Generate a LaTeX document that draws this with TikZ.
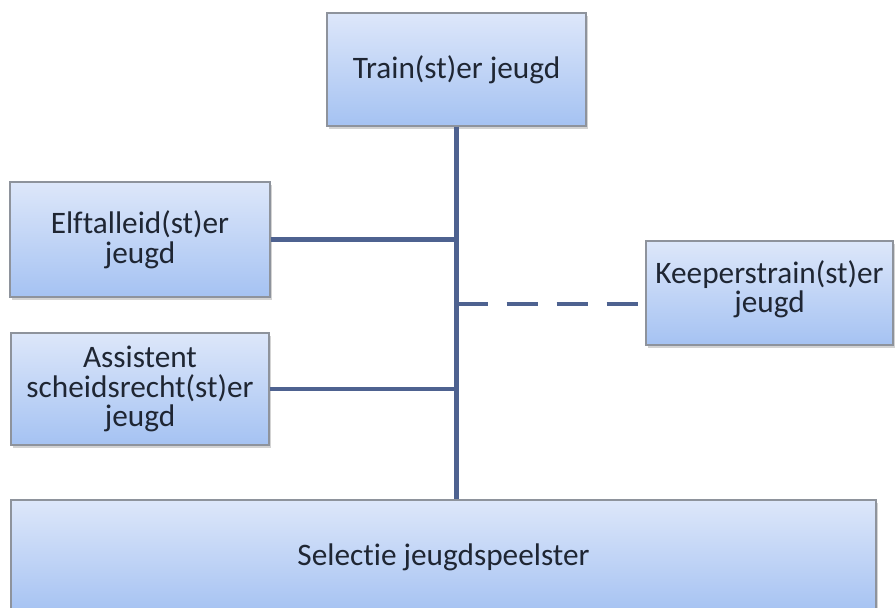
\documentclass[tikz,border=0pt]{standalone}
\usepackage{fontspec}
\setmainfont[Ligatures = NoCommon]{Carlito}
\usetikzlibrary{shadows}
\definecolor{boxtop}{HTML}{DDE7FA}
\definecolor{boxbottom}{HTML}{A5C2F2}
\definecolor{boxline}{HTML}{8E939C}
\definecolor{trunk}{HTML}{4E6290}
\definecolor{boxtext}{HTML}{1F2633}
\newcommand{\boxfont}{\fontsize{17.8}{16.8}\selectfont}

\begin{document}
\begin{tikzpicture}[
  role/.style = {draw = boxline, line width = 0.8pt, top color = boxtop, bottom color = boxbottom, text = boxtext, font = \boxfont, align = center, inner sep = 0pt, drop shadow = {shadow xshift = 1pt, shadow yshift = -1.5pt, opacity = 0.35}},
  link/.style = {draw = trunk, line width = 2.8pt}
]
\useasboundingbox (0,0) rectangle (17.9,12.16);
\node[role, minimum width = 5.18cm, minimum height = 2.26cm] (v1) at (9.13,10.77) {Train(st)er jeugd};
\node[role, minimum width = 5.2cm, minimum height = 2.3cm] (v2) at (2.8,7.37) {Elftalleid(st)er\\jeugd};
\node[role, minimum width = 5.16cm, minimum height = 2.24cm] (v3) at (2.8,4.38) {Assistent\\scheidsrecht(st)er\\jeugd};
\node[role, minimum width = 4.94cm, minimum height = 2.08cm, text depth = 0.25cm] (v4) at (15.39,6.3) {Keeperstrain(st)er\\jeugd};
\node[role, minimum width = 17.3cm, minimum height = 2.28cm] (v5) at (8.87,1.02) {Selectie jeugdspeelster};
\coordinate (k4) at ([yshift = -0.22cm]v4.west);
\draw [link] (v1.south) -- (v1.south |- v5.north);
\draw [link] (v2.east) -- (v2.east -| v1.south);
\draw [link] (v3.east) -- (v3.east -| v1.south);
\draw [link, dash pattern = on 0.62cm off 0.38cm] (k4 -| v1.south) -- (k4);
\end{tikzpicture}
\end{document}
